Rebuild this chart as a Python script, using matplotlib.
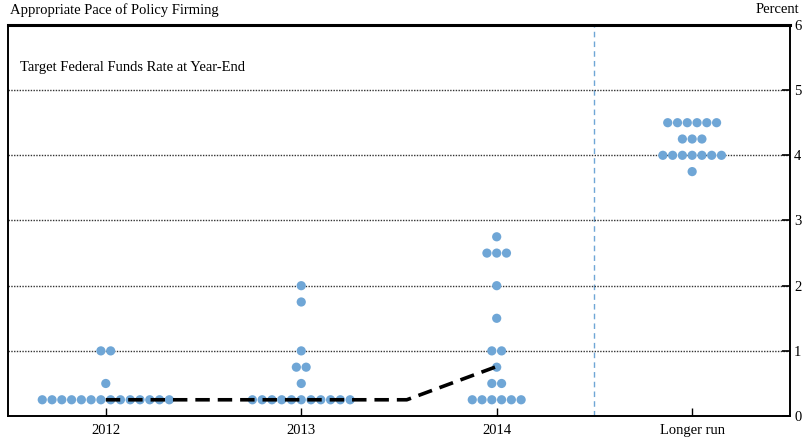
import numpy as np
import matplotlib.pyplot as plt

plt.rcParams['font.family'] = ['Liberation Serif', 'DejaVu Serif']

CATEGORIES = ['2012', '2013', '2014', 'Longer run']

# participant projections: rate level -> number of participants
DOTS = {
    '2012': {0.25: 14, 0.5: 1, 1.0: 2},
    '2013': {0.25: 11, 0.5: 1, 0.75: 2, 1.0: 1, 1.75: 1, 2.0: 1},
    '2014': {0.25: 6, 0.5: 2, 0.75: 1, 1.0: 2, 1.5: 1, 2.0: 1, 2.5: 3, 2.75: 1},
    'Longer run': {3.75: 1, 4.0: 7, 4.25: 3, 4.5: 6},
}

# dashed path
PATH_X = [0, 1.54, 2.0]
PATH_Y = [0.25, 0.25, 0.76]

DOT_COLOR = '#6fa6d6'
SPACING = 0.05

fig = plt.figure(figsize=(8.06, 4.45), dpi=100)
ax = fig.add_axes([0.01, 0.065, 0.97, 0.879])

for i, cat in enumerate(CATEGORIES):
    for level, n in DOTS[cat].items():
        xs = i + (np.arange(n) - (n - 1) / 2) * SPACING
        ax.scatter(xs, [level] * n, s=44, color=DOT_COLOR, edgecolors='none', zorder=3)

ax.plot(PATH_X, PATH_Y, color='black', lw=2.6, dashes=(4, 2.2), zorder=4)

ax.axvline(2.5, color=DOT_COLOR, lw=1, ls=(0, (4, 3)), zorder=1)
for y in range(1, 6):
    ax.axhline(y, color='#333333', lw=1, ls=(0, (1, 1)), zorder=1)

ax.set_xlim(-0.5, 3.5)
ax.set_ylim(0, 6)
ax.set_xticks(range(len(CATEGORIES)))
ax.set_xticklabels(CATEGORIES, fontsize=10.5)
ax.set_yticks(range(0, 7))
ax.yaxis.tick_right()
ax.tick_params(axis='y', direction='in', length=6, width=1.2, labelsize=10.5, pad=3)
ax.tick_params(axis='x', direction='in', length=6, width=1, pad=6)

for side in ['left', 'right', 'bottom']:
    ax.spines[side].set_linewidth(1.4)
ax.spines['top'].set_linewidth(2.2)

ax.text(0.015, 0.89, 'Target Federal Funds Rate at Year-End', transform=ax.transAxes,
        fontsize=10.5, va='center')
fig.text(0.012, 0.978, 'Appropriate Pace of Policy Firming', fontsize=10.5, va='center')
fig.text(0.992, 0.978, 'Percent', fontsize=10.5, va='center', ha='right')

fig.savefig('out.png', dpi=100)
